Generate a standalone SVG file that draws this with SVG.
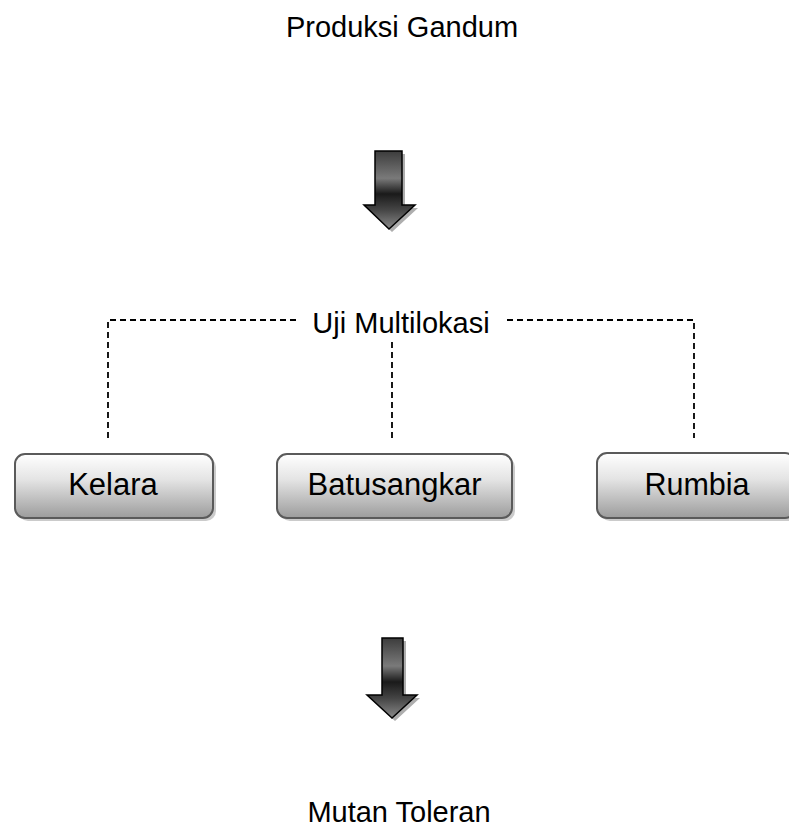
<svg xmlns="http://www.w3.org/2000/svg" width="789" height="834" viewBox="0 0 789 834">
<defs>
<linearGradient id="boxg" x1="0" y1="0" x2="0" y2="1">
<stop offset="0" stop-color="#ffffff"/>
<stop offset="0.4" stop-color="#e4e4e4"/>
<stop offset="1" stop-color="#9c9c9c"/>
</linearGradient>
<linearGradient id="arrg" x1="0" y1="0" x2="0" y2="1">
<stop offset="0" stop-color="#3c3c3c"/>
<stop offset="0.35" stop-color="#7a7a7a"/>
<stop offset="0.55" stop-color="#1a1a1a"/>
<stop offset="0.75" stop-color="#444444"/>
<stop offset="1" stop-color="#8a8a8a"/>
</linearGradient>
<style>
.t{font-family:"Liberation Sans",Arial,sans-serif;fill:#000;text-anchor:middle}
.box{fill:url(#boxg);stroke:#5a5a5a;stroke-width:2}
.shadow{fill:#a9a9a9;opacity:0.6}
.arr{fill:url(#arrg);stroke:#000;stroke-width:1.5;stroke-linejoin:miter}
.ash{fill:#8c8c8c;opacity:0.7}
.dash{fill:none;stroke:#000;stroke-width:1.8;stroke-dasharray:6 4}
</style>
</defs>
<rect width="789" height="834" fill="#fff"/>

<g id="produksi">
<text class="t" x="402" y="37" font-size="29">Produksi Gandum</text>
</g>

<g id="arrow1">
<path class="ash" d="M378,154 H405 V208 H418 L392,232 L367,208 H378 Z"/>
<path class="arr" d="M375,151 H402 V205 H415 L389,229 L364,205 H375 Z"/>
</g>

<g id="connectors">
<polyline class="dash" points="108,438 108,320 297,320"/>
<polyline class="dash" points="507,320 694,320 694,438"/>
<line class="dash" x1="392" y1="342" x2="392" y2="442"/>
</g>

<g id="uji">
<text class="t" x="401" y="333" font-size="29">Uji Multilokasi</text>
</g>

<g id="kelara">
<rect class="shadow" x="18" y="457" width="198" height="64" rx="10"/>
<rect class="box" x="15" y="454" width="198" height="64" rx="10"/>
<text class="t" x="113" y="495" font-size="31">Kelara</text>
</g>

<g id="batusangkar">
<rect class="shadow" x="280" y="457" width="235" height="64" rx="10"/>
<rect class="box" x="277" y="454" width="235" height="64" rx="10"/>
<text class="t" x="394.5" y="495" font-size="31">Batusangkar</text>
</g>

<g id="rumbia">
<rect class="shadow" x="600" y="456" width="198" height="65" rx="10"/>
<rect class="box" x="597" y="453" width="198" height="65" rx="10"/>
<text class="t" x="697" y="495" font-size="30.5">Rumbia</text>
</g>

<g id="arrow2">
<path class="ash" d="M385,641 H406 V698 H420 L395,721 L370,698 H385 Z"/>
<path class="arr" d="M382,638 H403 V695 H417 L392,718 L367,695 H382 Z"/>
</g>

<g id="mutan">
<text class="t" x="399" y="822" font-size="29">Mutan Toleran</text>
</g>
</svg>
